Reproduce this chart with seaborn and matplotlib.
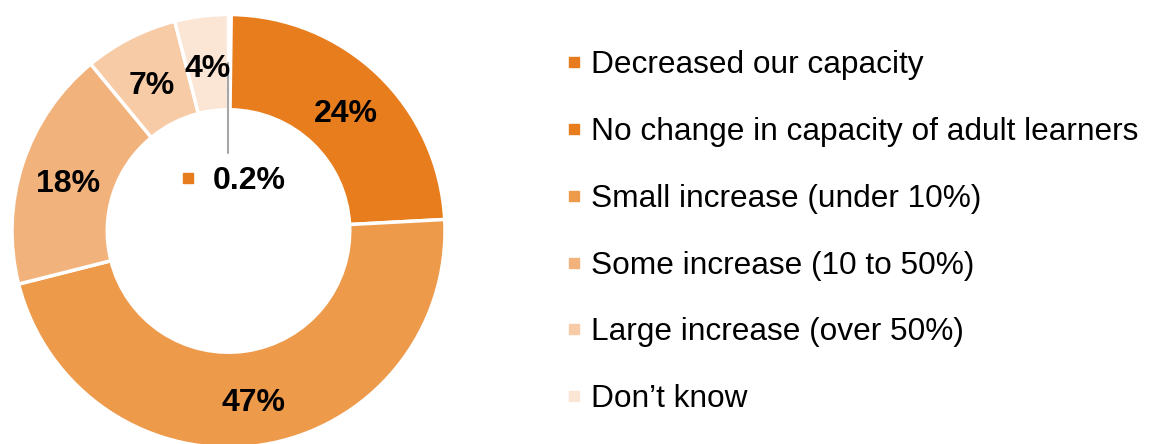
import matplotlib
matplotlib.use("Agg")
import matplotlib.pyplot as plt
from matplotlib.lines import Line2D
import numpy as np
import seaborn as sns

sns.set_theme(style="white")
plt.rcParams['font.family'] = ['Liberation Sans', 'DejaVu Sans']

categories = ["Decreased our capacity", "No change in capacity of adult learners",
              "Small increase (under 10%)", "Some increase (10 to 50%)",
              "Large increase (over 50%)", "Don\u2019t know"]
values = [0.2, 24, 47, 18, 7, 4]
labels = ["0.2%", "24%", "47%", "18%", "7%", "4%"]
colors = ["#E67C1E", "#E87D1E", "#EE9A4B", "#F2B27C", "#F7CBA6", "#FBE5D4"]

W, H = 1150, 444
fig = plt.figure(figsize=(W / 100, H / 100), dpi=100)
cx, cy, R = 228.5, 231, 216.5
ax = fig.add_axes([(cx - R) / W, (H - cy - R) / H, 2 * R / W, 2 * R / H])
wedges, _ = ax.pie(values, colors=colors, startangle=90, counterclock=False,
                   radius=1, wedgeprops=dict(width=0.44, edgecolor="white", linewidth=2.5))
ax.set_xlim(-1, 1)
ax.set_ylim(-1, 1)
ax.set_aspect("equal")
ax.axis("off")

for i, w in enumerate(wedges):
    if i == 0:
        continue
    ang = np.deg2rad((w.theta1 + w.theta2) / 2)
    r = 0.78
    ax.text(r * np.cos(ang), r * np.sin(ang) - 0.024, labels[i], ha="center", va="center",
            fontsize=23, fontweight="bold", color="black")

# small slice label with leader line
ax.plot([-0.002, -0.002], [0.776, 0.36], color="#A6A6A6", lw=1.5)
ax.plot([-0.187], [0.245], marker="s", markersize=7.5, color=colors[0], linestyle="")
ax.text(-0.072, 0.231, labels[0], ha="left", va="center", fontsize=23,
        fontweight="bold", color="black")

handles = [Line2D([], [], marker="s", linestyle="", markersize=7.5, color=c) for c in colors]
fig.legend(handles, categories, loc="upper left",
           bbox_to_anchor=(567 / W, 1 - 50.5 / H), frameon=False, fontsize=22.8,
           handlelength=0.47, handletextpad=0.28, labelspacing=1.16,
           borderpad=0, borderaxespad=0, labelcolor="black")

fig.savefig("out.png", dpi=100, facecolor="white")
